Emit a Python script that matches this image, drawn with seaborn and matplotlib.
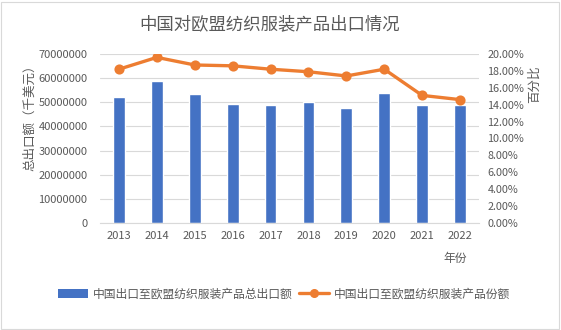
import matplotlib
matplotlib.use("Agg")
import matplotlib.pyplot as plt
import seaborn as sns
import pandas as pd
from matplotlib.patches import Patch, Rectangle
from matplotlib.lines import Line2D
from matplotlib.ticker import FuncFormatter, MultipleLocator

years = ["2013", "2014", "2015", "2016", "2017", "2018", "2019", "2020", "2021", "2022"]
total_export = [52200000, 58900000, 53600000, 49400000, 49000000, 50100000, 47600000, 54000000, 49000000, 49000000]
share_pct = [18.2, 19.6, 18.7, 18.6, 18.2, 17.9, 17.4, 18.2, 15.1, 14.6]

title = "中国对欧盟纺织服装产品出口情况"
bar_label = "中国出口至欧盟纺织服装产品总出口额"
line_label = "中国出口至欧盟纺织服装产品份额"
left_ylabel = "总出口额（千美元）"
right_ylabel = "百分比"
xlabel = "年份"

sns.set_theme(style="white")
plt.rcParams["font.family"] = ["Noto Sans CJK SC", "DejaVu Sans"]

BAR = "#4472C4"
LINE = "#ED7D31"
TXT = "#595959"
GRID = "#D9D9D9"

df = pd.DataFrame({"year": years, "total": total_export, "share": share_pct})

W, H = 561, 330
fig = plt.figure(figsize=(W / 100, H / 100), dpi=100)
ax = fig.add_axes([100 / W, (H - 223) / H, 379 / W, 169 / H])

sns.barplot(data=df, x="year", y="total", color=BAR, width=0.31, ax=ax, saturation=1)
ax.set_ylim(0, 70000000)
ax.yaxis.set_major_locator(MultipleLocator(10000000))
ax.yaxis.set_major_formatter(FuncFormatter(lambda v, p: f"{int(round(v))}"))
ax.grid(axis="y", color=GRID, linewidth=0.8)
ax.set_axisbelow(True)
for s in ["left", "right", "top"]:
    ax.spines[s].set_visible(False)
ax.spines["bottom"].set_color(GRID)
ax.spines["bottom"].set_linewidth(0.8)
ax.tick_params(axis="both", length=0, labelsize=8, colors=TXT)
ax.tick_params(axis="y", pad=9)
ax.tick_params(axis="x", pad=6)
ax.set_xlabel("")
ax.set_ylabel("")

ax2 = ax.twinx()
sns.pointplot(data=df, x="year", y="share", color=LINE, markers="o",
              linestyles="-", markersize=5.5, linewidth=2.4, ax=ax2)
ax2.set_ylim(0, 20)
ax2.yaxis.set_major_locator(MultipleLocator(2))
ax2.yaxis.set_major_formatter(FuncFormatter(lambda v, p: f"{v:.2f}%"))
for s in ["left", "right", "top", "bottom"]:
    ax2.spines[s].set_visible(False)
ax2.tick_params(axis="y", length=0, labelsize=7.8, colors=TXT, pad=6)
ax2.set_ylabel("")
ax2.set_xlabel("")
ax.set_xlim(-0.5, 9.5)

fig.text(270 / W, 1 - 24 / H, title, ha="center", va="center", fontsize=12.5, color=TXT)
fig.text(30 / W, 1 - 115 / H, left_ylabel, ha="center", va="center", rotation=90, fontsize=9, color=TXT)
fig.text(534 / W, 1 - 84 / H, right_ylabel, ha="center", va="center", rotation=90, fontsize=9, color=TXT)
fig.text(455 / W, 1 - 258 / H, xlabel, ha="center", va="center", fontsize=8.5, color=TXT)

handles = [Patch(facecolor=BAR, edgecolor="none"),
           Line2D([0], [0], color=LINE, linewidth=2.4, marker="o", markersize=5.5)]
fig.legend(handles, [bar_label, line_label], loc="center", bbox_to_anchor=(284 / W, 1 - 294 / H),
           ncol=2, frameon=False, fontsize=8.5, labelcolor=TXT, handlelength=2.6,
           handletextpad=0.4, columnspacing=0.5)

fig.patches.append(Rectangle((1 / W, 1 / H), (W - 3) / W, (H - 3) / H, transform=fig.transFigure,
                             fill=False, edgecolor="#D9D9D9", linewidth=0.8))

fig.savefig("out.png", dpi=100)
